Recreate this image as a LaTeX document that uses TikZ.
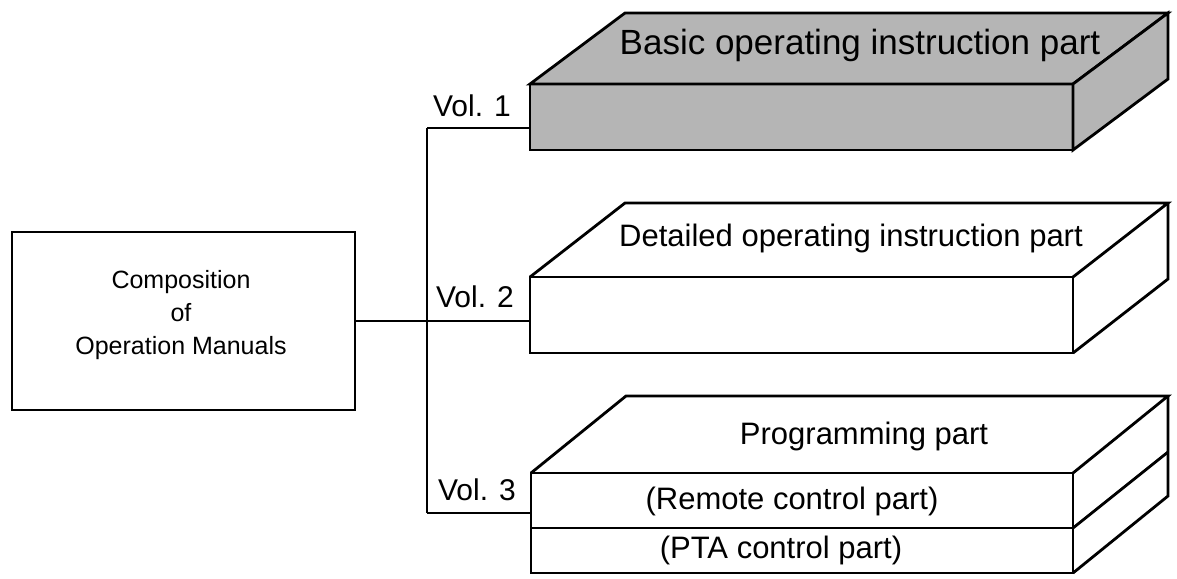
\documentclass[tikz,border=0pt]{standalone}
\usepackage{fontspec}
\setmainfont{Liberation Sans}
\begin{document}
\begin{tikzpicture}[x=1pt,y=-1pt,
  edge/.style={line width=2pt},
  boxline/.style={line width=2.8pt, line join=miter},
  front/.style={draw, boxline, rectangle, outer sep=0pt, inner sep=0pt},
  shadeone/.style={fill=black!29},
  vol/.style={font=\fontsize{30}{36}\selectfont, inner sep=0pt},
  boxtext/.style={font=\fontsize{31}{36}\selectfont, inner sep=0pt},
  maintext/.style={font=\fontsize{25}{33}\selectfont, align=center, inner sep=0pt}]
\useasboundingbox (0,0) rectangle (1177,578);

% left box
\node[draw, line width=2.4pt, minimum width=343pt, minimum height=178pt, outer sep=0pt, inner sep=0pt] (L) at (183.5,321) {};
\node[maintext] (Lt) at (181,315) {Composition\\of\\Operation Manuals};

% box 1 (shaded)
\node[front, shadeone, minimum width=543pt, minimum height=66pt] (b1) at (801.5,117) {};
\draw[boxline, shadeone] (b1.north west) -- ++(95pt,71pt) -- ++(543pt,0pt) -- (b1.north east) -- cycle;
\draw[boxline, shadeone] (b1.north east) -- ++(95pt,71pt) -- ++(0pt,-66pt) -- (b1.south east) -- cycle;
\node[boxtext, font=\fontsize{35}{40}\selectfont] (t1) at (860,45) {Basic operating instruction part};

% box 2
\node[front, minimum width=543pt, minimum height=76pt] (b2) at (801.5,315) {};
\draw[boxline] (b2.north west) -- ++(95pt,74pt) -- ++(543pt,0pt) -- (b2.north east);
\draw[boxline] (b2.north east) ++(95pt,74pt) -- ++(0pt,-76pt) -- (b2.south east);
\node[boxtext] (t2) at (851,238) {Detailed operating instruction part};

% box 3
\node[front, minimum width=542pt, minimum height=55pt] (b3a) at (802,500.5) {};
\node[front, minimum width=542pt, minimum height=45pt] (b3b) at (802,550.5) {};
\draw[boxline] (b3a.north west) -- ++(95pt,77pt) -- ++(542pt,0pt) -- (b3a.north east);
\draw[boxline] (b3a.north east) ++(95pt,77pt) -- ++(0pt,-100pt) -- (b3b.south east);
\draw[boxline] (b3a.south east) -- ++(95pt,76pt);
\node[boxtext] (t3) at (864,436) {Programming part};
\node[boxtext] (t3a) at (792,501) {(Remote control part)};
\node[boxtext] (t3b) at (781,550) {(PTA control part)};

% connectors
\coordinate (j1) at (427,128);
\coordinate (j3) at (427,513);
\draw[edge] (j1) -- (j3);
\draw[edge] (j1) -- (j1 -| b1.west);
\draw[edge] (L.east) -- (L.east -| b2.west);
\draw[edge] (j3) -- (j3 -| b3a.west);

% labels
\node[vol] (v1) at (472,106) {Vol. 1};
\node[vol] (v2) at (475,297) {Vol. 2};
\node[vol] (v3) at (477,490) {Vol. 3};
\end{tikzpicture}
\end{document}
